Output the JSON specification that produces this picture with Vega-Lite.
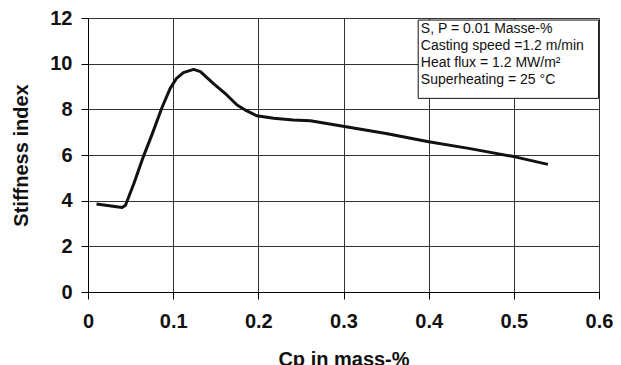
{
  "$schema": "https://vega.github.io/schema/vega-lite/v6.json",
  "width": 511,
  "height": 274,
  "autosize": "none",
  "padding": {"left": 88, "top": 18, "right": 22, "bottom": 73},
  "background": "white",
  "config": {
    "view": {"stroke": null},
    "font": "Liberation Sans",
    "axis": {
      "grid": true,
      "gridColor": "#333333",
      "gridOpacity": 1,
      "gridWidth": 1,
      "domainColor": "#000000",
      "tickColor": "#000000",
      "tickSize": 7,
      "labelFont": "Liberation Sans",
      "labelFontWeight": "bold",
      "labelFontSize": 20,
      "labelColor": "#111111",
      "titleFont": "Liberation Sans",
      "titleFontWeight": "bold",
      "titleFontSize": 20,
      "titleColor": "#111111"
    }
  },
  "layer": [
    {
      "data": {"name": "curve", "values": [
        {"cp": 0.01, "stiffness": 3.85},
        {"cp": 0.04, "stiffness": 3.70},
        {"cp": 0.044, "stiffness": 3.80},
        {"cp": 0.054, "stiffness": 4.76},
        {"cp": 0.065, "stiffness": 5.93},
        {"cp": 0.075, "stiffness": 6.88},
        {"cp": 0.087, "stiffness": 8.09},
        {"cp": 0.0965, "stiffness": 8.92},
        {"cp": 0.104, "stiffness": 9.36},
        {"cp": 0.112, "stiffness": 9.61},
        {"cp": 0.124, "stiffness": 9.75},
        {"cp": 0.132, "stiffness": 9.65},
        {"cp": 0.147, "stiffness": 9.14},
        {"cp": 0.163, "stiffness": 8.63},
        {"cp": 0.175, "stiffness": 8.19},
        {"cp": 0.186, "stiffness": 7.94},
        {"cp": 0.198, "stiffness": 7.72},
        {"cp": 0.218, "stiffness": 7.61},
        {"cp": 0.241, "stiffness": 7.53},
        {"cp": 0.261, "stiffness": 7.50},
        {"cp": 0.296, "stiffness": 7.28},
        {"cp": 0.35, "stiffness": 6.94},
        {"cp": 0.40, "stiffness": 6.58},
        {"cp": 0.447, "stiffness": 6.29},
        {"cp": 0.50, "stiffness": 5.93},
        {"cp": 0.54, "stiffness": 5.59}
      ]},
      "mark": {"type": "line", "color": "#111111", "strokeWidth": 3, "strokeJoin": "round", "strokeCap": "butt"},
      "encoding": {
        "x": {
          "field": "cp", "type": "quantitative",
          "scale": {"domain": [0, 0.6], "nice": false, "zero": false},
          "axis": {
            "title": "Cp in mass-%",
            "values": [0, 0.1, 0.2, 0.3, 0.4, 0.5, 0.6],
            "labelExpr": "datum.value == 0 ? '0' : format(datum.value, '.1f')",
            "labelPadding": 12,
            "titlePadding": 18,
            "labelFlush": false,
            "labelOverlap": false
          }
        },
        "y": {
          "field": "stiffness", "type": "quantitative",
          "scale": {"domain": [0, 12], "nice": false},
          "axis": {
            "title": "Stiffness index",
            "values": [0, 2, 4, 6, 8, 10, 12],
            "labelPadding": 9,
            "titlePadding": 18,
            "labelFlush": false,
            "labelOverlap": false
          }
        }
      }
    },
    {
      "data": {"values": [{"x1": 0.3877, "x2": 0.5995, "y1": 11.91, "y2": 8.48}]},
      "mark": {"type": "rect", "fill": "white", "stroke": "#111111", "strokeWidth": 1},
      "encoding": {
        "x": {"field": "x1", "type": "quantitative"},
        "x2": {"field": "x2"},
        "y": {"field": "y1", "type": "quantitative"},
        "y2": {"field": "y2"}
      }
    },
    {
      "data": {"values": [
        {"tx": 0.3908, "ty": 11.33, "label": "S, P = 0.01 Masse-%"},
        {"tx": 0.3908, "ty": 10.59, "label": "Casting speed =1.2 m/min"},
        {"tx": 0.3908, "ty": 9.84, "label": "Heat flux = 1.2 MW/m²"},
        {"tx": 0.3908, "ty": 9.10, "label": "Superheating = 25 °C"}
      ]},
      "mark": {"type": "text", "align": "left", "baseline": "alphabetic", "font": "Liberation Sans", "fontSize": 14, "color": "#111111"},
      "encoding": {
        "x": {"field": "tx", "type": "quantitative"},
        "y": {"field": "ty", "type": "quantitative"},
        "text": {"field": "label"}
      }
    }
  ]
}
